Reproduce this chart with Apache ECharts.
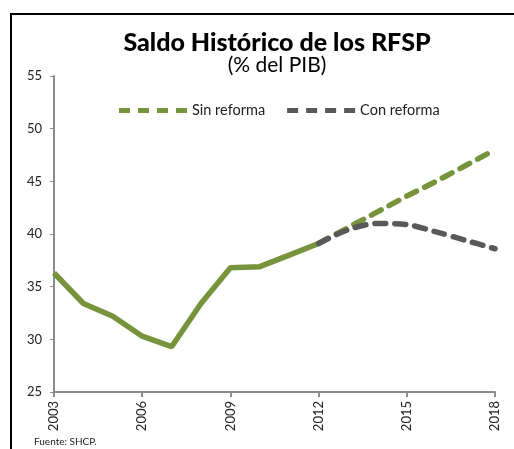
<!DOCTYPE html>
<html>
<head>
<meta charset="utf-8">
<script src="https://cdn.jsdelivr.net/npm/echarts@6/dist/echarts.min.js"></script>
<style>
  html, body { margin: 0; padding: 0; background: #fff; }
  #chart { width: 514px; height: 449px; }
</style>
</head>
<body>
<div id="chart"></div>
<script>
const years = ["2003", "2004", "2005", "2006", "2007", "2008", "2009", "2010",
  "2011", "2012", "2013", "2014", "2015", "2016", "2017", "2018"];
// historico hasta 2012
const historico = [36.3, 33.4, 32.2, 30.3, 29.3, 33.4, 36.8, 36.9, 38.0, 39.1,
  null, null, null, null, null, null];
const sinReforma = [null, null, null, null, null, null, null, null, null, 39.1,
  40.6, 42.1, 43.6, 45.0, 46.5, 48.0];
const conReforma = [null, null, null, null, null, null, null, null, null, 39.1,
  40.4, 41.0, 40.9, 40.2, 39.4, 38.6];

const green = "#77933c";
const gray = "#595959";

// icono de leyenda: linea punteada
const dashIcon = "path://M0 0h11v5h-11z M19 0h11v5h-11z M38 0h11v5h-11z M57 0h11v5h-11z";

const myChart = echarts.init(document.getElementById("chart"));

myChart.setOption({
  animation: false,
  title: {
    text: "Saldo Histórico de los RFSP",
    subtext: "(% del PIB)",
    left: 272,
    textAlign: "center",
    top: 25,
    itemGap: 0,
    textStyle: { fontFamily: "Lato", fontWeight: 900, fontSize: 25, color: "#000" },
    subtextStyle: { fontFamily: "Lato", fontSize: 21, color: "#000" },
  },
  legend: {
    data: [
      { name: "Sin reforma", icon: dashIcon },
      { name: "Con reforma", icon: dashIcon },
    ],
    top: 98,
    left: 114,
    itemWidth: 68,
    itemHeight: 5,
    itemGap: 22,
    textStyle: { fontFamily: "Lato", fontSize: 14.5, color: "#222" },
  },
  grid: { left: 54, right: 19, top: 76, bottom: 57 },
  xAxis: {
    type: "category",
    boundaryGap: false,
    data: years,
    axisLine: { lineStyle: { color: "#8c8c8c", width: 2 } },
    axisTick: { interval: 2, length: 5, lineStyle: { color: "#8c8c8c", width: 2 } },
    axisLabel: {
      interval: 2,
      rotate: 90,
      margin: 9,
      fontFamily: "Lato",
      fontSize: 13,
      color: "#222",
    },
  },
  yAxis: {
    type: "value",
    min: 25,
    max: 55,
    interval: 5,
    splitLine: { show: false },
    axisLine: { show: true, lineStyle: { color: "#8c8c8c", width: 2 } },
    axisTick: { show: true, length: 4, lineStyle: { color: "#8c8c8c", width: 1 } },
    axisLabel: { margin: 12, fontFamily: "Lato", fontSize: 13, color: "#222" },
  },
  series: [
    {
      name: "Histórico",
      type: "line",
      data: historico,
      symbol: "none",
      lineStyle: { color: green, width: 5.5 },
      itemStyle: { color: green },
    },
    {
      name: "Sin reforma",
      type: "line",
      data: sinReforma,
      symbol: "none",
      lineStyle: { color: green, width: 5.5, type: [11, 9], cap: "round" },
      itemStyle: { color: green },
    },
    {
      name: "Con reforma",
      type: "line",
      data: conReforma,
      symbol: "none",
      smooth: 0.3,
      lineStyle: { color: gray, width: 5.5, type: [11, 9], cap: "round" },
      itemStyle: { color: gray },
    },
  ],
  graphic: [
    {
      type: "rect",
      shape: { x: 11, y: 14, width: 520, height: 460 },
      style: { fill: "none", stroke: "#000", lineWidth: 2 },
      silent: true,
    },
    {
      type: "text",
      left: 34,
      top: 437,
      style: { text: "Fuente: SHCP.", fontFamily: "Lato", fontSize: 10, fill: "#222" },
    },
  ],
});
</script>
</body>
</html>
